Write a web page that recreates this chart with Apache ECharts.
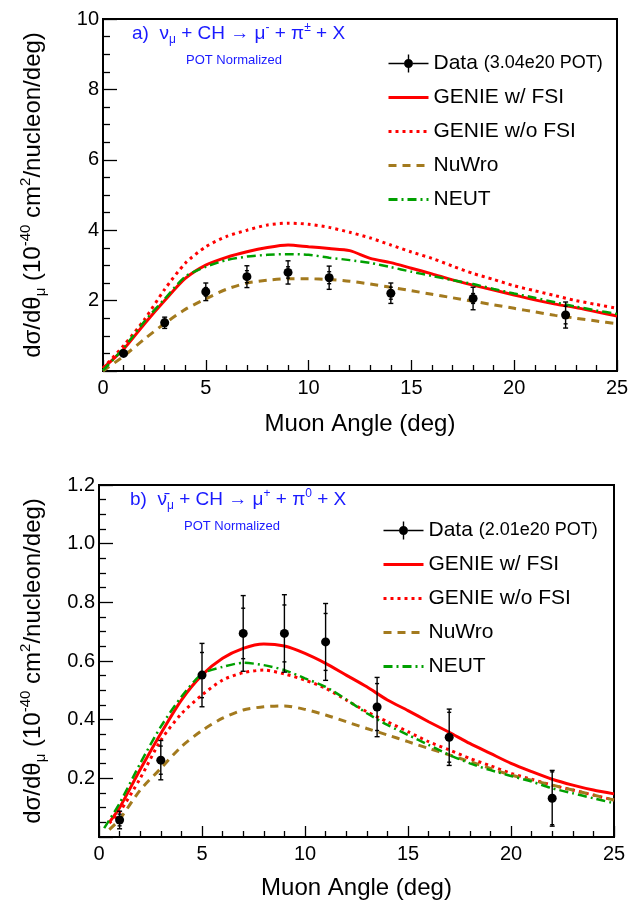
<!DOCTYPE html>
<html>
<head>
<meta charset="utf-8">
<script src="https://cdn.jsdelivr.net/npm/echarts@6/dist/echarts.min.js"></script>
<style>html,body{margin:0;padding:0;background:#fff;}#c{width:639px;height:901px;}</style>
</head>
<body>
<div id="c"></div>
<script>
// ---------- Panel a) data ----------
const xTicks = [0, 5, 10, 15, 20, 25];
const xDataTop = [1, 3, 5, 7, 9, 11, 14, 18, 22.5];
const yDataTop = [0.50, 1.37, 2.25, 2.68, 2.80, 2.65, 2.21, 2.06, 1.59];
const errTotTop = [0.06, 0.16, 0.25, 0.31, 0.33, 0.33, 0.29, 0.32, 0.37];
const errStatTop = [0.04, 0.10, 0.12, 0.17, 0.16, 0.17, 0.17, 0.14, 0.25];
const curveXTop = [0,1,2,3,4,5,6,7,8,9,10,11,12,13,14,15,16,17,18,19,20,21,22,23,24,25];
const genieFsiTop = [0.08,0.62,1.33,2.0,2.63,3.01,3.23,3.39,3.51,3.58,3.53,3.48,3.42,3.20,3.08,2.92,2.76,2.59,2.44,2.30,2.16,2.02,1.90,1.80,1.68,1.56];
const genieNoFsiTop = [0.08,0.72,1.45,2.32,3.06,3.53,3.82,4.0,4.15,4.2,4.17,4.08,3.94,3.78,3.58,3.38,3.20,2.98,2.77,2.60,2.42,2.28,2.14,2.0,1.89,1.78];
const neutTop = [0.02,0.65,1.40,2.05,2.68,2.96,3.15,3.25,3.30,3.32,3.30,3.22,3.15,3.07,2.95,2.82,2.70,2.58,2.47,2.33,2.20,2.08,1.95,1.83,1.72,1.62];
const nuwroTop = [0.0,0.42,0.9,1.35,1.75,2.05,2.32,2.50,2.58,2.62,2.62,2.60,2.55,2.47,2.38,2.28,2.18,2.08,1.98,1.88,1.78,1.68,1.58,1.50,1.42,1.34];

// ---------- Panel b) data ----------
const xDataBot = [1, 3, 5, 7, 9, 11, 13.5, 17, 22];
const yDataBot = [0.058, 0.262, 0.552, 0.694, 0.694, 0.665, 0.443, 0.340, 0.132];
const errTotBot = [0.03, 0.067, 0.108, 0.129, 0.132, 0.131, 0.101, 0.096, 0.095];
const errStatBot = [0.02, 0.048, 0.077, 0.086, 0.097, 0.097, 0.080, 0.085, 0.090];
const curveXBot = [0.5,1,2,3,4,5,6,7,8,9,10,11,12,13,14,15,16,17,18,19,20,21,22,23,24,25];
const neutXBot = [0.25,1,2,3,4,5,6,7,8,9,10,11,12,13,14,15,16,17,18,19,20,21,22,23,24,25];
const genieFsiBot = [0.05,0.10,0.23,0.353,0.467,0.552,0.609,0.643,0.658,0.651,0.626,0.592,0.552,0.512,0.467,0.431,0.393,0.357,0.319,0.285,0.251,0.223,0.197,0.177,0.160,0.147];
const genieNoFsiBot = [0.047,0.085,0.20,0.33,0.42,0.484,0.535,0.56,0.569,0.556,0.535,0.507,0.467,0.427,0.393,0.359,0.325,0.297,0.268,0.243,0.217,0.197,0.177,0.160,0.143,0.126];
const neutBot = [0.03,0.115,0.251,0.376,0.478,0.556,0.58,0.594,0.586,0.569,0.541,0.512,0.469,0.422,0.382,0.348,0.314,0.28,0.251,0.228,0.208,0.189,0.166,0.149,0.132,0.115];
const nuwroBot = [0.025,0.06,0.16,0.234,0.308,0.363,0.405,0.433,0.444,0.447,0.435,0.416,0.393,0.37,0.348,0.325,0.302,0.28,0.257,0.234,0.211,0.194,0.177,0.16,0.143,0.126];

const dataNameTop = 'Data (3.04e20 POT)';
const dataNameBot = 'Data (2.01e20 POT)';
const modelNames = ['GENIE w/ FSI', 'GENIE w/o FSI', 'NuWro', 'NEUT'];

const FONT = '"Liberation Sans", Arial, Helvetica, sans-serif';
const RED = '#ff0000', BROWN = '#a37a1e', GREEN = '#00a000', BLUE = '#1a1aff';

function pairs(xs, ys) { return xs.map((x, i) => [x, ys[i]]); }
function errs(xs, ys, et, es) { return xs.map((x, i) => [x, ys[i], et[i], es[i]]); }

const chart = echarts.init(document.getElementById('c'), null, {renderer: 'canvas'});

function xAxisCfg(gi, gap) {
  return {
    gridIndex: gi, type: 'value', min: 0, max: 25, interval: 5,
    name: 'Muon Angle (deg)', nameLocation: 'middle', nameGap: gap,
    nameTextStyle: {fontFamily: FONT, fontSize: 24, color: '#000'},
    axisLine: {show: true, onZero: false, lineStyle: {color: '#000', width: 2}},
    axisTick: {show: true, inside: true, length: 11, lineStyle: {color: '#000', width: 1.3}},
    minorTick: {show: true, splitNumber: 5, length: 6, lineStyle: {color: '#000', width: 1.3}},
    axisLabel: {fontFamily: FONT, fontSize: 20, color: '#000', margin: 7},
    splitLine: {show: false}
  };
}
const yTitleRich = {
  m: {fontFamily: FONT, fontSize: 24, color: '#000', lineHeight: 30},
  sub: {fontFamily: FONT, fontSize: 15, color: '#000', lineHeight: 14, verticalAlign: 'bottom'},
  sup: {fontFamily: FONT, fontSize: 15, color: '#000', lineHeight: 18, verticalAlign: 'top'}
};
const yTitle = '{m|dσ/dθ}{sub|μ}{m| (10}{sup|-40}{m| cm}{sup|2}{m|/nucleon/deg)}';
function yAxisCfg(gi, max, interval, dec, gap) {
  return {
    gridIndex: gi, type: 'value', min: 0, max: max, interval: interval,
    name: yTitle, nameLocation: 'middle', nameGap: gap, nameRotate: 90,
    nameTextStyle: {rich: yTitleRich},
    axisLine: {show: true, onZero: false, lineStyle: {color: '#000', width: 2}},
    axisTick: {show: true, inside: true, length: 14, lineStyle: {color: '#000', width: 1.3}},
    minorTick: {show: true, splitNumber: 4, length: 7, lineStyle: {color: '#000', width: 1.3}},
    axisLabel: {fontFamily: FONT, fontSize: 20, color: '#000', margin: 4, showMinLabel: false,
      formatter: v => (v === 0 ? '' : v.toFixed(dec))},
    splitLine: {show: false}
  };
}

function errRender(params, api) {
  const x = api.value(0), y = api.value(1), et = api.value(2), es = api.value(3);
  const lo = api.coord([x, y - et]), hi = api.coord([x, y + et]);
  const slo = api.coord([x, y - es]), shi = api.coord([x, y + es]);
  const st = {stroke: '#000', lineWidth: 1.4};
  const cap = (p, w) => ({type: 'line', shape: {x1: p[0] - w, y1: p[1], x2: p[0] + w, y2: p[1]}, style: st});
  return {type: 'group', children: [
    {type: 'line', shape: {x1: lo[0], y1: lo[1], x2: hi[0], y2: hi[1]}, style: st},
    cap(lo, 2.5), cap(hi, 2.5), cap(slo, 2), cap(shi, 2)
  ]};
}

function lineSeries(name, gi, data, color, type, width) {
  return {name: name, type: 'line', xAxisIndex: gi, yAxisIndex: gi, data: data,
    symbol: 'none', smooth: 0.25, z: 3,
    lineStyle: {color: color, width: width, type: type}, itemStyle: {color: color}};
}

// cross-hair with filled dot (pieces do not overlap, so nothing cancels out)
const dataIcon = 'path://M0,9.3h15.5v1.4h-15.5z M24.5,9.3h15.5v1.4h-15.5z M19.3,1h1.4v4.5h-1.4z M19.3,14.5h1.4v4.5h-1.4z M15.5,10a4.5,4.5 0 1 0 9,0a4.5,4.5 0 1 0 -9,0z';
const legendRich = {
  d: {fontFamily: FONT, fontSize: 21, color: '#000'},
  s: {fontFamily: FONT, fontSize: 18, color: '#000'}
};
function legendCfg(dataName, left, top) {
  return {
    orient: 'vertical', left: left, top: top, itemWidth: 40, itemHeight: 20, itemGap: 13,
    selectedMode: false, padding: 0,
    itemStyle: {opacity: 0},
    lineStyle: {width: 3},
    data: [{name: dataName, icon: dataIcon, itemStyle: {opacity: 1, color: '#000'}}].concat(modelNames),
    textStyle: {fontFamily: FONT, fontSize: 21, color: '#000', lineHeight: 20, rich: legendRich},
    formatter: function (n) {
      if (n.indexOf('Data') === 0) { return '{d|Data} {s|' + n.slice(5) + '}'; }
      return '{d|' + n + '}';
    }
  };
}

const annRich = {
  t: {fontFamily: FONT, fontSize: 19, fill: BLUE, color: BLUE, lineHeight: 24},
  sub: {fontFamily: FONT, fontSize: 12, fill: BLUE, color: BLUE, lineHeight: 12, verticalAlign: 'bottom'},
  sup: {fontFamily: FONT, fontSize: 12, fill: BLUE, color: BLUE, lineHeight: 14, verticalAlign: 'top'}
};

const option = {
  animation: false,
  backgroundColor: '#fff',
  grid: [
    {left: 103, top: 19, width: 514, height: 352, show: true, borderColor: '#000', borderWidth: 2, backgroundColor: 'transparent'},
    {left: 99, top: 485, width: 515, height: 352, show: true, borderColor: '#000', borderWidth: 2, backgroundColor: 'transparent'}
  ],
  xAxis: [xAxisCfg(0, 41), xAxisCfg(1, 39)],
  yAxis: [yAxisCfg(0, 10, 2, 0, 55), yAxisCfg(1, 1.2, 0.2, 1, 51)],
  legend: [legendCfg(dataNameTop, 387, 53), legendCfg(dataNameBot, 382, 520)],
  graphic: [
    {type: 'text', x: 132, y: 34, style: {text: '{t|a)  ν}{sub|μ}{t| + CH → μ}{sup|-}{t| + π}{sup|±}{t| + X}', rich: annRich, verticalAlign: 'middle', align: 'left'}},
    {type: 'text', x: 186, y: 60, style: {text: 'POT Normalized', fontFamily: FONT, fontSize: 13, fill: BLUE, verticalAlign: 'middle', align: 'left'}},
    {type: 'text', x: 130, y: 500, style: {text: '{t|b)  ν̄}{sub|μ}{t| + CH → μ}{sup|+}{t| + π}{sup|0}{t| + X}', rich: annRich, verticalAlign: 'middle', align: 'left'}},
    {type: 'text', x: 184, y: 526, style: {text: 'POT Normalized', fontFamily: FONT, fontSize: 13, fill: BLUE, verticalAlign: 'middle', align: 'left'}}
  ],
  series: [
    lineSeries('GENIE w/ FSI', 0, pairs(curveXTop, genieFsiTop), RED, 'solid', 3),
    lineSeries('GENIE w/o FSI', 0, pairs(curveXTop, genieNoFsiTop), RED, [3, 4], 3),
    lineSeries('NuWro', 0, pairs(curveXTop, nuwroTop), BROWN, [8, 6], 3),
    lineSeries('NEUT', 0, pairs(curveXTop, neutTop), GREEN, [9, 4, 2, 4], 2.5),
    {name: 'errTop', type: 'custom', xAxisIndex: 0, yAxisIndex: 0, renderItem: errRender,
      data: errs(xDataTop, yDataTop, errTotTop, errStatTop), encode: {x: 0, y: 1}, z: 4, silent: true},
    {name: dataNameTop, type: 'scatter', xAxisIndex: 0, yAxisIndex: 0, data: pairs(xDataTop, yDataTop),
      symbol: 'circle', symbolSize: 9, itemStyle: {color: '#000', opacity: 1}, z: 5},

    lineSeries('GENIE w/ FSI', 1, pairs(curveXBot, genieFsiBot), RED, 'solid', 3),
    lineSeries('GENIE w/o FSI', 1, pairs(curveXBot, genieNoFsiBot), RED, [3, 4], 3),
    lineSeries('NuWro', 1, pairs(curveXBot, nuwroBot), BROWN, [8, 6], 3),
    lineSeries('NEUT', 1, pairs(neutXBot, neutBot), GREEN, [9, 4, 2, 4], 2.5),
    {name: 'errBot', type: 'custom', xAxisIndex: 1, yAxisIndex: 1, renderItem: errRender,
      data: errs(xDataBot, yDataBot, errTotBot, errStatBot), encode: {x: 0, y: 1}, z: 4, silent: true},
    {name: dataNameBot, type: 'scatter', xAxisIndex: 1, yAxisIndex: 1, data: pairs(xDataBot, yDataBot),
      symbol: 'circle', symbolSize: 9, itemStyle: {color: '#000', opacity: 1}, z: 5}
  ]
};
chart.setOption(option);
</script>
</body>
</html>
